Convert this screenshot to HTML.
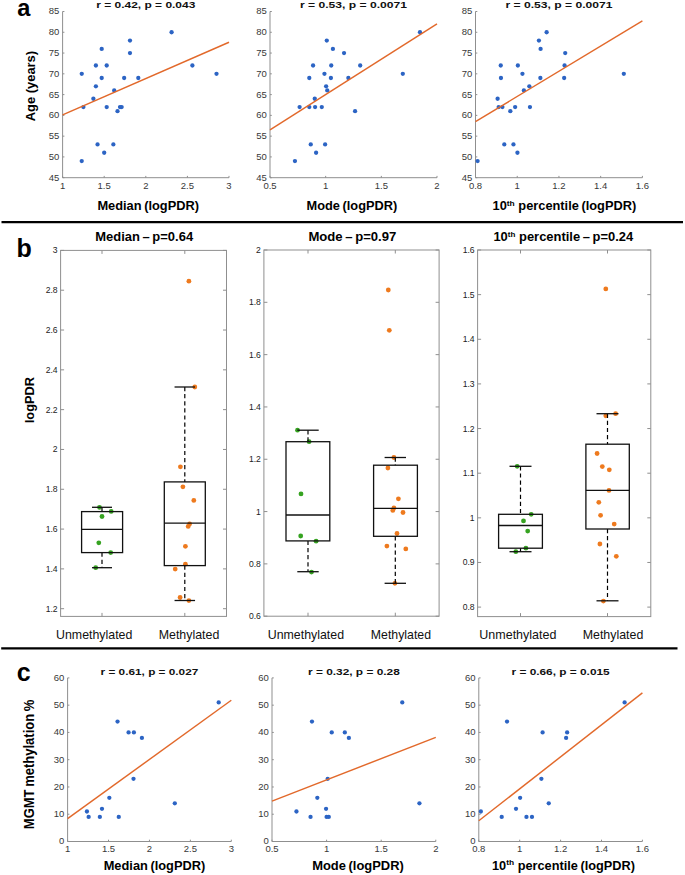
<!DOCTYPE html><html><head><meta charset="utf-8"><style>html,body{margin:0;padding:0;background:#fff;}svg{display:block;font-family:"Liberation Sans", sans-serif;}</style></head><body>
<svg width="685" height="875" viewBox="0 0 685 875">
<rect width="685" height="875" fill="#fff"/>
<line x1="1.5" y1="222.1" x2="683" y2="222.1" stroke="#000" stroke-width="2.2"/>
<line x1="1.2" y1="648.4" x2="677.5" y2="648.4" stroke="#000" stroke-width="2.2"/>
<text x="17.2" y="15.5" font-size="23.6" text-anchor="start" fill="#000" font-weight="bold">a</text>
<text x="16.6" y="257" font-size="25" text-anchor="start" fill="#000" font-weight="bold">b</text>
<text x="16.8" y="681" font-size="25" text-anchor="start" fill="#000" font-weight="bold">c</text>
<path d="M62.6 11.5 L62.6 177.7 L229 177.7" stroke="#8f8f8f" stroke-width="1" fill="none"/>
<line x1="62.6" y1="11.5" x2="64.4" y2="11.5" stroke="#8f8f8f" stroke-width="1"/>
<text x="59.4" y="14.4" font-size="9.5" text-anchor="end" fill="#383838">85</text>
<line x1="62.6" y1="32.27" x2="64.4" y2="32.27" stroke="#8f8f8f" stroke-width="1"/>
<text x="59.4" y="35.17" font-size="9.5" text-anchor="end" fill="#383838">80</text>
<line x1="62.6" y1="53.05" x2="64.4" y2="53.05" stroke="#8f8f8f" stroke-width="1"/>
<text x="59.4" y="55.95" font-size="9.5" text-anchor="end" fill="#383838">75</text>
<line x1="62.6" y1="73.82" x2="64.4" y2="73.82" stroke="#8f8f8f" stroke-width="1"/>
<text x="59.4" y="76.72" font-size="9.5" text-anchor="end" fill="#383838">70</text>
<line x1="62.6" y1="94.6" x2="64.4" y2="94.6" stroke="#8f8f8f" stroke-width="1"/>
<text x="59.4" y="97.5" font-size="9.5" text-anchor="end" fill="#383838">65</text>
<line x1="62.6" y1="115.38" x2="64.4" y2="115.38" stroke="#8f8f8f" stroke-width="1"/>
<text x="59.4" y="118.28" font-size="9.5" text-anchor="end" fill="#383838">60</text>
<line x1="62.6" y1="136.15" x2="64.4" y2="136.15" stroke="#8f8f8f" stroke-width="1"/>
<text x="59.4" y="139.05" font-size="9.5" text-anchor="end" fill="#383838">55</text>
<line x1="62.6" y1="156.92" x2="64.4" y2="156.92" stroke="#8f8f8f" stroke-width="1"/>
<text x="59.4" y="159.82" font-size="9.5" text-anchor="end" fill="#383838">50</text>
<line x1="62.6" y1="177.7" x2="64.4" y2="177.7" stroke="#8f8f8f" stroke-width="1"/>
<text x="59.4" y="180.6" font-size="9.5" text-anchor="end" fill="#383838">45</text>
<line x1="62.6" y1="177.7" x2="62.6" y2="175.9" stroke="#8f8f8f" stroke-width="1"/>
<text x="62.6" y="188.5" font-size="9.5" text-anchor="middle" fill="#383838">1</text>
<line x1="104.2" y1="177.7" x2="104.2" y2="175.9" stroke="#8f8f8f" stroke-width="1"/>
<text x="104.2" y="188.5" font-size="9.5" text-anchor="middle" fill="#383838">1.5</text>
<line x1="145.8" y1="177.7" x2="145.8" y2="175.9" stroke="#8f8f8f" stroke-width="1"/>
<text x="145.8" y="188.5" font-size="9.5" text-anchor="middle" fill="#383838">2</text>
<line x1="187.4" y1="177.7" x2="187.4" y2="175.9" stroke="#8f8f8f" stroke-width="1"/>
<text x="187.4" y="188.5" font-size="9.5" text-anchor="middle" fill="#383838">2.5</text>
<line x1="229" y1="177.7" x2="229" y2="175.9" stroke="#8f8f8f" stroke-width="1"/>
<text x="229" y="188.5" font-size="9.5" text-anchor="middle" fill="#383838">3</text>
<circle cx="81.74" cy="73.82" r="2.15" fill="#2c64c4"/>
<circle cx="101.7" cy="48.89" r="2.15" fill="#2c64c4"/>
<circle cx="95.88" cy="65.52" r="2.15" fill="#2c64c4"/>
<circle cx="106.7" cy="65.52" r="2.15" fill="#2c64c4"/>
<circle cx="101.7" cy="77.98" r="2.15" fill="#2c64c4"/>
<circle cx="95.88" cy="86.29" r="2.15" fill="#2c64c4"/>
<circle cx="93.38" cy="98.75" r="2.15" fill="#2c64c4"/>
<circle cx="83.4" cy="107.06" r="2.15" fill="#2c64c4"/>
<circle cx="106.7" cy="107.06" r="2.15" fill="#2c64c4"/>
<circle cx="114.18" cy="90.44" r="2.15" fill="#2c64c4"/>
<circle cx="117.51" cy="111.22" r="2.15" fill="#2c64c4"/>
<circle cx="120.01" cy="107.06" r="2.15" fill="#2c64c4"/>
<circle cx="121.67" cy="107.06" r="2.15" fill="#2c64c4"/>
<circle cx="124.17" cy="77.98" r="2.15" fill="#2c64c4"/>
<circle cx="129.99" cy="40.58" r="2.15" fill="#2c64c4"/>
<circle cx="129.99" cy="53.05" r="2.15" fill="#2c64c4"/>
<circle cx="138.31" cy="77.98" r="2.15" fill="#2c64c4"/>
<circle cx="171.59" cy="32.27" r="2.15" fill="#2c64c4"/>
<circle cx="192.39" cy="65.52" r="2.15" fill="#2c64c4"/>
<circle cx="216.52" cy="73.82" r="2.15" fill="#2c64c4"/>
<circle cx="97.54" cy="144.46" r="2.15" fill="#2c64c4"/>
<circle cx="104.2" cy="152.77" r="2.15" fill="#2c64c4"/>
<circle cx="113.35" cy="144.46" r="2.15" fill="#2c64c4"/>
<circle cx="81.74" cy="161.08" r="2.15" fill="#2c64c4"/>
<line x1="62.6" y1="114.96" x2="229" y2="42.25" stroke="#e2692b" stroke-width="1.45"/>
<text x="145.8" y="8.4" font-size="9.8" text-anchor="middle" fill="#111" font-weight="bold" textLength="99" lengthAdjust="spacingAndGlyphs">r = 0.42, p = 0.043</text>
<text x="148.2" y="210.1" font-size="12.2" font-weight="bold" text-anchor="middle" textLength="101.6" lengthAdjust="spacingAndGlyphs">Median (logPDR)</text>
<path d="M270 11.5 L270 177.7 L437 177.7" stroke="#8f8f8f" stroke-width="1" fill="none"/>
<line x1="270" y1="11.5" x2="271.8" y2="11.5" stroke="#8f8f8f" stroke-width="1"/>
<text x="266.8" y="14.4" font-size="9.5" text-anchor="end" fill="#383838">85</text>
<line x1="270" y1="32.27" x2="271.8" y2="32.27" stroke="#8f8f8f" stroke-width="1"/>
<text x="266.8" y="35.17" font-size="9.5" text-anchor="end" fill="#383838">80</text>
<line x1="270" y1="53.05" x2="271.8" y2="53.05" stroke="#8f8f8f" stroke-width="1"/>
<text x="266.8" y="55.95" font-size="9.5" text-anchor="end" fill="#383838">75</text>
<line x1="270" y1="73.82" x2="271.8" y2="73.82" stroke="#8f8f8f" stroke-width="1"/>
<text x="266.8" y="76.72" font-size="9.5" text-anchor="end" fill="#383838">70</text>
<line x1="270" y1="94.6" x2="271.8" y2="94.6" stroke="#8f8f8f" stroke-width="1"/>
<text x="266.8" y="97.5" font-size="9.5" text-anchor="end" fill="#383838">65</text>
<line x1="270" y1="115.38" x2="271.8" y2="115.38" stroke="#8f8f8f" stroke-width="1"/>
<text x="266.8" y="118.28" font-size="9.5" text-anchor="end" fill="#383838">60</text>
<line x1="270" y1="136.15" x2="271.8" y2="136.15" stroke="#8f8f8f" stroke-width="1"/>
<text x="266.8" y="139.05" font-size="9.5" text-anchor="end" fill="#383838">55</text>
<line x1="270" y1="156.92" x2="271.8" y2="156.92" stroke="#8f8f8f" stroke-width="1"/>
<text x="266.8" y="159.82" font-size="9.5" text-anchor="end" fill="#383838">50</text>
<line x1="270" y1="177.7" x2="271.8" y2="177.7" stroke="#8f8f8f" stroke-width="1"/>
<text x="266.8" y="180.6" font-size="9.5" text-anchor="end" fill="#383838">45</text>
<line x1="270" y1="177.7" x2="270" y2="175.9" stroke="#8f8f8f" stroke-width="1"/>
<text x="270" y="188.5" font-size="9.5" text-anchor="middle" fill="#383838">0.5</text>
<line x1="325.67" y1="177.7" x2="325.67" y2="175.9" stroke="#8f8f8f" stroke-width="1"/>
<text x="325.67" y="188.5" font-size="9.5" text-anchor="middle" fill="#383838">1</text>
<line x1="381.33" y1="177.7" x2="381.33" y2="175.9" stroke="#8f8f8f" stroke-width="1"/>
<text x="381.33" y="188.5" font-size="9.5" text-anchor="middle" fill="#383838">1.5</text>
<line x1="437" y1="177.7" x2="437" y2="175.9" stroke="#8f8f8f" stroke-width="1"/>
<text x="437" y="188.5" font-size="9.5" text-anchor="middle" fill="#383838">2</text>
<circle cx="299.61" cy="107.06" r="2.15" fill="#2c64c4"/>
<circle cx="309.3" cy="107.06" r="2.15" fill="#2c64c4"/>
<circle cx="315.09" cy="107.06" r="2.15" fill="#2c64c4"/>
<circle cx="321.77" cy="107.06" r="2.15" fill="#2c64c4"/>
<circle cx="309.3" cy="77.98" r="2.15" fill="#2c64c4"/>
<circle cx="313.09" cy="65.52" r="2.15" fill="#2c64c4"/>
<circle cx="314.76" cy="98.75" r="2.15" fill="#2c64c4"/>
<circle cx="326.78" cy="40.58" r="2.15" fill="#2c64c4"/>
<circle cx="332.9" cy="48.89" r="2.15" fill="#2c64c4"/>
<circle cx="324.44" cy="73.82" r="2.15" fill="#2c64c4"/>
<circle cx="326.11" cy="86.29" r="2.15" fill="#2c64c4"/>
<circle cx="327.23" cy="90.44" r="2.15" fill="#2c64c4"/>
<circle cx="331.23" cy="65.52" r="2.15" fill="#2c64c4"/>
<circle cx="330.9" cy="77.98" r="2.15" fill="#2c64c4"/>
<circle cx="344.04" cy="53.05" r="2.15" fill="#2c64c4"/>
<circle cx="348.38" cy="77.98" r="2.15" fill="#2c64c4"/>
<circle cx="360.18" cy="65.52" r="2.15" fill="#2c64c4"/>
<circle cx="355.06" cy="111.22" r="2.15" fill="#2c64c4"/>
<circle cx="402.82" cy="73.82" r="2.15" fill="#2c64c4"/>
<circle cx="419.97" cy="32.27" r="2.15" fill="#2c64c4"/>
<circle cx="310.75" cy="144.46" r="2.15" fill="#2c64c4"/>
<circle cx="325.11" cy="144.46" r="2.15" fill="#2c64c4"/>
<circle cx="316.09" cy="152.77" r="2.15" fill="#2c64c4"/>
<circle cx="294.94" cy="161.08" r="2.15" fill="#2c64c4"/>
<line x1="270" y1="129.92" x2="437" y2="23.96" stroke="#e2692b" stroke-width="1.45"/>
<text x="353.5" y="8.4" font-size="9.8" text-anchor="middle" fill="#111" font-weight="bold" textLength="107" lengthAdjust="spacingAndGlyphs">r = 0.53, p = 0.0071</text>
<text x="351.9" y="210.1" font-size="12.2" font-weight="bold" text-anchor="middle" textLength="90.6" lengthAdjust="spacingAndGlyphs">Mode (logPDR)</text>
<path d="M475.5 11.5 L475.5 177.7 L642.4 177.7" stroke="#8f8f8f" stroke-width="1" fill="none"/>
<line x1="475.5" y1="11.5" x2="477.3" y2="11.5" stroke="#8f8f8f" stroke-width="1"/>
<text x="472.3" y="14.4" font-size="9.5" text-anchor="end" fill="#383838">85</text>
<line x1="475.5" y1="32.27" x2="477.3" y2="32.27" stroke="#8f8f8f" stroke-width="1"/>
<text x="472.3" y="35.17" font-size="9.5" text-anchor="end" fill="#383838">80</text>
<line x1="475.5" y1="53.05" x2="477.3" y2="53.05" stroke="#8f8f8f" stroke-width="1"/>
<text x="472.3" y="55.95" font-size="9.5" text-anchor="end" fill="#383838">75</text>
<line x1="475.5" y1="73.82" x2="477.3" y2="73.82" stroke="#8f8f8f" stroke-width="1"/>
<text x="472.3" y="76.72" font-size="9.5" text-anchor="end" fill="#383838">70</text>
<line x1="475.5" y1="94.6" x2="477.3" y2="94.6" stroke="#8f8f8f" stroke-width="1"/>
<text x="472.3" y="97.5" font-size="9.5" text-anchor="end" fill="#383838">65</text>
<line x1="475.5" y1="115.38" x2="477.3" y2="115.38" stroke="#8f8f8f" stroke-width="1"/>
<text x="472.3" y="118.28" font-size="9.5" text-anchor="end" fill="#383838">60</text>
<line x1="475.5" y1="136.15" x2="477.3" y2="136.15" stroke="#8f8f8f" stroke-width="1"/>
<text x="472.3" y="139.05" font-size="9.5" text-anchor="end" fill="#383838">55</text>
<line x1="475.5" y1="156.92" x2="477.3" y2="156.92" stroke="#8f8f8f" stroke-width="1"/>
<text x="472.3" y="159.82" font-size="9.5" text-anchor="end" fill="#383838">50</text>
<line x1="475.5" y1="177.7" x2="477.3" y2="177.7" stroke="#8f8f8f" stroke-width="1"/>
<text x="472.3" y="180.6" font-size="9.5" text-anchor="end" fill="#383838">45</text>
<line x1="475.5" y1="177.7" x2="475.5" y2="175.9" stroke="#8f8f8f" stroke-width="1"/>
<text x="475.5" y="188.5" font-size="9.5" text-anchor="middle" fill="#383838">0.8</text>
<line x1="517.23" y1="177.7" x2="517.23" y2="175.9" stroke="#8f8f8f" stroke-width="1"/>
<text x="517.23" y="188.5" font-size="9.5" text-anchor="middle" fill="#383838">1</text>
<line x1="558.95" y1="177.7" x2="558.95" y2="175.9" stroke="#8f8f8f" stroke-width="1"/>
<text x="558.95" y="188.5" font-size="9.5" text-anchor="middle" fill="#383838">1.2</text>
<line x1="600.67" y1="177.7" x2="600.67" y2="175.9" stroke="#8f8f8f" stroke-width="1"/>
<text x="600.67" y="188.5" font-size="9.5" text-anchor="middle" fill="#383838">1.4</text>
<line x1="642.4" y1="177.7" x2="642.4" y2="175.9" stroke="#8f8f8f" stroke-width="1"/>
<text x="642.4" y="188.5" font-size="9.5" text-anchor="middle" fill="#383838">1.6</text>
<circle cx="477.59" cy="161.08" r="2.15" fill="#2c64c4"/>
<circle cx="497.61" cy="98.75" r="2.15" fill="#2c64c4"/>
<circle cx="498.66" cy="107.06" r="2.15" fill="#2c64c4"/>
<circle cx="502.41" cy="107.06" r="2.15" fill="#2c64c4"/>
<circle cx="500.74" cy="65.52" r="2.15" fill="#2c64c4"/>
<circle cx="500.95" cy="77.98" r="2.15" fill="#2c64c4"/>
<circle cx="504.29" cy="144.46" r="2.15" fill="#2c64c4"/>
<circle cx="510.34" cy="111.22" r="2.15" fill="#2c64c4"/>
<circle cx="513.47" cy="144.46" r="2.15" fill="#2c64c4"/>
<circle cx="515.14" cy="107.06" r="2.15" fill="#2c64c4"/>
<circle cx="517.85" cy="65.52" r="2.15" fill="#2c64c4"/>
<circle cx="517.43" cy="152.77" r="2.15" fill="#2c64c4"/>
<circle cx="522.44" cy="73.82" r="2.15" fill="#2c64c4"/>
<circle cx="523.9" cy="90.44" r="2.15" fill="#2c64c4"/>
<circle cx="529.33" cy="86.29" r="2.15" fill="#2c64c4"/>
<circle cx="529.95" cy="107.06" r="2.15" fill="#2c64c4"/>
<circle cx="538.92" cy="40.58" r="2.15" fill="#2c64c4"/>
<circle cx="540.59" cy="48.89" r="2.15" fill="#2c64c4"/>
<circle cx="546.64" cy="32.27" r="2.15" fill="#2c64c4"/>
<circle cx="540.38" cy="77.98" r="2.15" fill="#2c64c4"/>
<circle cx="565.21" cy="53.05" r="2.15" fill="#2c64c4"/>
<circle cx="564.58" cy="65.52" r="2.15" fill="#2c64c4"/>
<circle cx="564.17" cy="77.98" r="2.15" fill="#2c64c4"/>
<circle cx="623.83" cy="73.82" r="2.15" fill="#2c64c4"/>
<line x1="475.5" y1="121.61" x2="642.4" y2="20.85" stroke="#e2692b" stroke-width="1.45"/>
<text x="558.95" y="8.4" font-size="9.8" text-anchor="middle" fill="#111" font-weight="bold" textLength="107" lengthAdjust="spacingAndGlyphs">r = 0.53, p = 0.0071</text>
<text x="564.4" y="210.1" font-size="12.2" font-weight="bold" text-anchor="middle" textLength="143.7" lengthAdjust="spacingAndGlyphs">10<tspan font-size="8" dy="-4.5">th</tspan><tspan dy="4.5"> percentile (logPDR)</tspan></text>
<text x="35" y="86.1" font-size="13.2" text-anchor="middle" fill="#000" font-weight="bold" textLength="70.4" lengthAdjust="spacingAndGlyphs" transform="rotate(-90 35 86.1)">Age (years)</text>
<rect x="60.6" y="250.4" width="165.9" height="366" fill="none" stroke="#8f8f8f" stroke-width="1"/>
<line x1="60.6" y1="250.4" x2="64.1" y2="250.4" stroke="#8f8f8f" stroke-width="1"/>
<line x1="226.5" y1="250.4" x2="223" y2="250.4" stroke="#8f8f8f" stroke-width="1"/>
<text x="57.6" y="253.4" font-size="8.6" text-anchor="end" fill="#222">3</text>
<line x1="60.6" y1="290.21" x2="64.1" y2="290.21" stroke="#8f8f8f" stroke-width="1"/>
<line x1="226.5" y1="290.21" x2="223" y2="290.21" stroke="#8f8f8f" stroke-width="1"/>
<text x="57.6" y="293.21" font-size="8.6" text-anchor="end" fill="#222">2.8</text>
<line x1="60.6" y1="330.02" x2="64.1" y2="330.02" stroke="#8f8f8f" stroke-width="1"/>
<line x1="226.5" y1="330.02" x2="223" y2="330.02" stroke="#8f8f8f" stroke-width="1"/>
<text x="57.6" y="333.02" font-size="8.6" text-anchor="end" fill="#222">2.6</text>
<line x1="60.6" y1="369.83" x2="64.1" y2="369.83" stroke="#8f8f8f" stroke-width="1"/>
<line x1="226.5" y1="369.83" x2="223" y2="369.83" stroke="#8f8f8f" stroke-width="1"/>
<text x="57.6" y="372.83" font-size="8.6" text-anchor="end" fill="#222">2.4</text>
<line x1="60.6" y1="409.64" x2="64.1" y2="409.64" stroke="#8f8f8f" stroke-width="1"/>
<line x1="226.5" y1="409.64" x2="223" y2="409.64" stroke="#8f8f8f" stroke-width="1"/>
<text x="57.6" y="412.64" font-size="8.6" text-anchor="end" fill="#222">2.2</text>
<line x1="60.6" y1="449.46" x2="64.1" y2="449.46" stroke="#8f8f8f" stroke-width="1"/>
<line x1="226.5" y1="449.46" x2="223" y2="449.46" stroke="#8f8f8f" stroke-width="1"/>
<text x="57.6" y="452.46" font-size="8.6" text-anchor="end" fill="#222">2</text>
<line x1="60.6" y1="489.27" x2="64.1" y2="489.27" stroke="#8f8f8f" stroke-width="1"/>
<line x1="226.5" y1="489.27" x2="223" y2="489.27" stroke="#8f8f8f" stroke-width="1"/>
<text x="57.6" y="492.27" font-size="8.6" text-anchor="end" fill="#222">1.8</text>
<line x1="60.6" y1="529.08" x2="64.1" y2="529.08" stroke="#8f8f8f" stroke-width="1"/>
<line x1="226.5" y1="529.08" x2="223" y2="529.08" stroke="#8f8f8f" stroke-width="1"/>
<text x="57.6" y="532.08" font-size="8.6" text-anchor="end" fill="#222">1.6</text>
<line x1="60.6" y1="568.89" x2="64.1" y2="568.89" stroke="#8f8f8f" stroke-width="1"/>
<line x1="226.5" y1="568.89" x2="223" y2="568.89" stroke="#8f8f8f" stroke-width="1"/>
<text x="57.6" y="571.89" font-size="8.6" text-anchor="end" fill="#222">1.4</text>
<line x1="60.6" y1="608.7" x2="64.1" y2="608.7" stroke="#8f8f8f" stroke-width="1"/>
<line x1="226.5" y1="608.7" x2="223" y2="608.7" stroke="#8f8f8f" stroke-width="1"/>
<text x="57.6" y="611.7" font-size="8.6" text-anchor="end" fill="#222">1.2</text>
<line x1="102" y1="250.4" x2="102" y2="253.9" stroke="#8f8f8f" stroke-width="1"/>
<line x1="102" y1="616.4" x2="102" y2="612.9" stroke="#8f8f8f" stroke-width="1"/>
<line x1="184.8" y1="250.4" x2="184.8" y2="253.9" stroke="#8f8f8f" stroke-width="1"/>
<line x1="184.8" y1="616.4" x2="184.8" y2="612.9" stroke="#8f8f8f" stroke-width="1"/>
<circle cx="99.5" cy="507.3" r="2.4" fill="#36a321"/>
<circle cx="111.2" cy="511.4" r="2.4" fill="#36a321"/>
<circle cx="102" cy="516.5" r="2.4" fill="#36a321"/>
<circle cx="98.8" cy="542.8" r="2.4" fill="#36a321"/>
<circle cx="110.7" cy="552.6" r="2.4" fill="#36a321"/>
<circle cx="95.7" cy="567.7" r="2.4" fill="#36a321"/>
<line x1="102" y1="507.3" x2="102" y2="511.6" stroke="#000" stroke-width="1.2" stroke-dasharray="4.2 2.9"/>
<line x1="102" y1="552.6" x2="102" y2="567.7" stroke="#000" stroke-width="1.2" stroke-dasharray="4.2 2.9"/>
<line x1="92" y1="507.3" x2="112" y2="507.3" stroke="#111" stroke-width="1.3"/>
<line x1="92" y1="567.7" x2="112" y2="567.7" stroke="#111" stroke-width="1.3"/>
<rect x="81.6" y="511.6" width="41" height="41" fill="none" stroke="#111" stroke-width="1.3"/>
<line x1="81.6" y1="529.3" x2="122.6" y2="529.3" stroke="#111" stroke-width="1.3"/>
<circle cx="188.9" cy="281.2" r="2.4" fill="#ee7a1e"/>
<circle cx="194.8" cy="387" r="2.4" fill="#ee7a1e"/>
<circle cx="180.4" cy="466.8" r="2.4" fill="#ee7a1e"/>
<circle cx="182.9" cy="486.8" r="2.4" fill="#ee7a1e"/>
<circle cx="193.8" cy="500.4" r="2.4" fill="#ee7a1e"/>
<circle cx="189.6" cy="523.9" r="2.4" fill="#ee7a1e"/>
<circle cx="188.2" cy="526.4" r="2.4" fill="#ee7a1e"/>
<circle cx="185.4" cy="546.3" r="2.4" fill="#ee7a1e"/>
<circle cx="185.4" cy="564.2" r="2.4" fill="#ee7a1e"/>
<circle cx="175.2" cy="569.1" r="2.4" fill="#ee7a1e"/>
<circle cx="180.1" cy="597.5" r="2.4" fill="#ee7a1e"/>
<circle cx="188.9" cy="600.6" r="2.4" fill="#ee7a1e"/>
<line x1="184.8" y1="387" x2="184.8" y2="481.9" stroke="#000" stroke-width="1.2" stroke-dasharray="4.2 2.9"/>
<line x1="184.8" y1="565.6" x2="184.8" y2="600.5" stroke="#000" stroke-width="1.2" stroke-dasharray="4.2 2.9"/>
<line x1="174.55" y1="387" x2="195.05" y2="387" stroke="#111" stroke-width="1.3"/>
<line x1="174.55" y1="600.5" x2="195.05" y2="600.5" stroke="#111" stroke-width="1.3"/>
<rect x="164.3" y="481.9" width="41" height="83.7" fill="none" stroke="#111" stroke-width="1.3"/>
<line x1="164.3" y1="523.2" x2="205.3" y2="523.2" stroke="#111" stroke-width="1.3"/>
<text x="144.2" y="241.3" font-size="12.9" font-weight="bold" text-anchor="middle" textLength="97.8" lengthAdjust="spacingAndGlyphs">Median – p=0.64</text>
<text x="94.2" y="639.2" font-size="12.2" text-anchor="middle" fill="#111" textLength="76.4" lengthAdjust="spacingAndGlyphs">Unmethylated</text>
<text x="189" y="639.2" font-size="12.2" text-anchor="middle" fill="#111" textLength="60.6" lengthAdjust="spacingAndGlyphs">Methylated</text>
<rect x="263.9" y="250" width="175.2" height="366.2" fill="none" stroke="#8f8f8f" stroke-width="1"/>
<line x1="263.9" y1="250" x2="267.4" y2="250" stroke="#8f8f8f" stroke-width="1"/>
<line x1="439.1" y1="250" x2="435.6" y2="250" stroke="#8f8f8f" stroke-width="1"/>
<text x="260.9" y="253" font-size="8.6" text-anchor="end" fill="#222">2</text>
<line x1="263.9" y1="302.31" x2="267.4" y2="302.31" stroke="#8f8f8f" stroke-width="1"/>
<line x1="439.1" y1="302.31" x2="435.6" y2="302.31" stroke="#8f8f8f" stroke-width="1"/>
<text x="260.9" y="305.31" font-size="8.6" text-anchor="end" fill="#222">1.8</text>
<line x1="263.9" y1="354.63" x2="267.4" y2="354.63" stroke="#8f8f8f" stroke-width="1"/>
<line x1="439.1" y1="354.63" x2="435.6" y2="354.63" stroke="#8f8f8f" stroke-width="1"/>
<text x="260.9" y="357.63" font-size="8.6" text-anchor="end" fill="#222">1.6</text>
<line x1="263.9" y1="406.94" x2="267.4" y2="406.94" stroke="#8f8f8f" stroke-width="1"/>
<line x1="439.1" y1="406.94" x2="435.6" y2="406.94" stroke="#8f8f8f" stroke-width="1"/>
<text x="260.9" y="409.94" font-size="8.6" text-anchor="end" fill="#222">1.4</text>
<line x1="263.9" y1="459.26" x2="267.4" y2="459.26" stroke="#8f8f8f" stroke-width="1"/>
<line x1="439.1" y1="459.26" x2="435.6" y2="459.26" stroke="#8f8f8f" stroke-width="1"/>
<text x="260.9" y="462.26" font-size="8.6" text-anchor="end" fill="#222">1.2</text>
<line x1="263.9" y1="511.57" x2="267.4" y2="511.57" stroke="#8f8f8f" stroke-width="1"/>
<line x1="439.1" y1="511.57" x2="435.6" y2="511.57" stroke="#8f8f8f" stroke-width="1"/>
<text x="260.9" y="514.57" font-size="8.6" text-anchor="end" fill="#222">1</text>
<line x1="263.9" y1="563.89" x2="267.4" y2="563.89" stroke="#8f8f8f" stroke-width="1"/>
<line x1="439.1" y1="563.89" x2="435.6" y2="563.89" stroke="#8f8f8f" stroke-width="1"/>
<text x="260.9" y="566.89" font-size="8.6" text-anchor="end" fill="#222">0.8</text>
<line x1="263.9" y1="616.2" x2="267.4" y2="616.2" stroke="#8f8f8f" stroke-width="1"/>
<line x1="439.1" y1="616.2" x2="435.6" y2="616.2" stroke="#8f8f8f" stroke-width="1"/>
<text x="260.9" y="619.2" font-size="8.6" text-anchor="end" fill="#222">0.6</text>
<line x1="308" y1="250" x2="308" y2="253.5" stroke="#8f8f8f" stroke-width="1"/>
<line x1="308" y1="616.2" x2="308" y2="612.7" stroke="#8f8f8f" stroke-width="1"/>
<line x1="395.3" y1="250" x2="395.3" y2="253.5" stroke="#8f8f8f" stroke-width="1"/>
<line x1="395.3" y1="616.2" x2="395.3" y2="612.7" stroke="#8f8f8f" stroke-width="1"/>
<circle cx="297.5" cy="430.2" r="2.4" fill="#36a321"/>
<circle cx="309.1" cy="441.7" r="2.4" fill="#36a321"/>
<circle cx="301" cy="493.9" r="2.4" fill="#36a321"/>
<circle cx="300.7" cy="536" r="2.4" fill="#36a321"/>
<circle cx="316.1" cy="541.2" r="2.4" fill="#36a321"/>
<circle cx="311.5" cy="572.1" r="2.4" fill="#36a321"/>
<line x1="308" y1="430.2" x2="308" y2="441.7" stroke="#000" stroke-width="1.2" stroke-dasharray="4.2 2.9"/>
<line x1="308" y1="540.9" x2="308" y2="571.7" stroke="#000" stroke-width="1.2" stroke-dasharray="4.2 2.9"/>
<line x1="297.3" y1="430.2" x2="318.7" y2="430.2" stroke="#111" stroke-width="1.3"/>
<line x1="297.3" y1="571.7" x2="318.7" y2="571.7" stroke="#111" stroke-width="1.3"/>
<rect x="286" y="441.7" width="43.8" height="99.2" fill="none" stroke="#111" stroke-width="1.3"/>
<line x1="286" y1="515" x2="329.8" y2="515" stroke="#111" stroke-width="1.3"/>
<circle cx="388.3" cy="290" r="2.4" fill="#ee7a1e"/>
<circle cx="389.3" cy="330.3" r="2.4" fill="#ee7a1e"/>
<circle cx="393.9" cy="457.5" r="2.4" fill="#ee7a1e"/>
<circle cx="387.9" cy="468" r="2.4" fill="#ee7a1e"/>
<circle cx="398.4" cy="498.8" r="2.4" fill="#ee7a1e"/>
<circle cx="393.9" cy="508" r="2.4" fill="#ee7a1e"/>
<circle cx="392.8" cy="510.4" r="2.4" fill="#ee7a1e"/>
<circle cx="403" cy="512.5" r="2.4" fill="#ee7a1e"/>
<circle cx="397" cy="533.5" r="2.4" fill="#ee7a1e"/>
<circle cx="386.9" cy="546.1" r="2.4" fill="#ee7a1e"/>
<circle cx="405.8" cy="548.9" r="2.4" fill="#ee7a1e"/>
<circle cx="394.9" cy="583.3" r="2.4" fill="#ee7a1e"/>
<line x1="395.3" y1="457.5" x2="395.3" y2="465.2" stroke="#000" stroke-width="1.2" stroke-dasharray="4.2 2.9"/>
<line x1="395.3" y1="536.3" x2="395.3" y2="583.3" stroke="#000" stroke-width="1.2" stroke-dasharray="4.2 2.9"/>
<line x1="384.6" y1="457.5" x2="406" y2="457.5" stroke="#111" stroke-width="1.3"/>
<line x1="384.6" y1="583.3" x2="406" y2="583.3" stroke="#111" stroke-width="1.3"/>
<rect x="373.6" y="465.2" width="43.8" height="71.1" fill="none" stroke="#111" stroke-width="1.3"/>
<line x1="373.6" y1="508.3" x2="417.4" y2="508.3" stroke="#111" stroke-width="1.3"/>
<text x="352.4" y="241.3" font-size="12.9" font-weight="bold" text-anchor="middle" textLength="87.9" lengthAdjust="spacingAndGlyphs">Mode – p=0.97</text>
<text x="305.9" y="639.2" font-size="12.2" text-anchor="middle" fill="#111" textLength="76.4" lengthAdjust="spacingAndGlyphs">Unmethylated</text>
<text x="400.9" y="639.2" font-size="12.2" text-anchor="middle" fill="#111" textLength="60.2" lengthAdjust="spacingAndGlyphs">Methylated</text>
<rect x="477.6" y="250" width="173.2" height="366.6" fill="none" stroke="#8f8f8f" stroke-width="1"/>
<line x1="477.6" y1="250" x2="481.1" y2="250" stroke="#8f8f8f" stroke-width="1"/>
<line x1="650.8" y1="250" x2="647.3" y2="250" stroke="#8f8f8f" stroke-width="1"/>
<text x="474.6" y="253" font-size="8.6" text-anchor="end" fill="#222">1.6</text>
<line x1="477.6" y1="294.64" x2="481.1" y2="294.64" stroke="#8f8f8f" stroke-width="1"/>
<line x1="650.8" y1="294.64" x2="647.3" y2="294.64" stroke="#8f8f8f" stroke-width="1"/>
<text x="474.6" y="297.64" font-size="8.6" text-anchor="end" fill="#222">1.5</text>
<line x1="477.6" y1="339.28" x2="481.1" y2="339.28" stroke="#8f8f8f" stroke-width="1"/>
<line x1="650.8" y1="339.28" x2="647.3" y2="339.28" stroke="#8f8f8f" stroke-width="1"/>
<text x="474.6" y="342.28" font-size="8.6" text-anchor="end" fill="#222">1.4</text>
<line x1="477.6" y1="383.91" x2="481.1" y2="383.91" stroke="#8f8f8f" stroke-width="1"/>
<line x1="650.8" y1="383.91" x2="647.3" y2="383.91" stroke="#8f8f8f" stroke-width="1"/>
<text x="474.6" y="386.91" font-size="8.6" text-anchor="end" fill="#222">1.3</text>
<line x1="477.6" y1="428.55" x2="481.1" y2="428.55" stroke="#8f8f8f" stroke-width="1"/>
<line x1="650.8" y1="428.55" x2="647.3" y2="428.55" stroke="#8f8f8f" stroke-width="1"/>
<text x="474.6" y="431.55" font-size="8.6" text-anchor="end" fill="#222">1.2</text>
<line x1="477.6" y1="473.19" x2="481.1" y2="473.19" stroke="#8f8f8f" stroke-width="1"/>
<line x1="650.8" y1="473.19" x2="647.3" y2="473.19" stroke="#8f8f8f" stroke-width="1"/>
<text x="474.6" y="476.19" font-size="8.6" text-anchor="end" fill="#222">1.1</text>
<line x1="477.6" y1="517.83" x2="481.1" y2="517.83" stroke="#8f8f8f" stroke-width="1"/>
<line x1="650.8" y1="517.83" x2="647.3" y2="517.83" stroke="#8f8f8f" stroke-width="1"/>
<text x="474.6" y="520.83" font-size="8.6" text-anchor="end" fill="#222">1</text>
<line x1="477.6" y1="562.46" x2="481.1" y2="562.46" stroke="#8f8f8f" stroke-width="1"/>
<line x1="650.8" y1="562.46" x2="647.3" y2="562.46" stroke="#8f8f8f" stroke-width="1"/>
<text x="474.6" y="565.46" font-size="8.6" text-anchor="end" fill="#222">0.9</text>
<line x1="477.6" y1="607.1" x2="481.1" y2="607.1" stroke="#8f8f8f" stroke-width="1"/>
<line x1="650.8" y1="607.1" x2="647.3" y2="607.1" stroke="#8f8f8f" stroke-width="1"/>
<text x="474.6" y="610.1" font-size="8.6" text-anchor="end" fill="#222">0.8</text>
<line x1="520.5" y1="250" x2="520.5" y2="253.5" stroke="#8f8f8f" stroke-width="1"/>
<line x1="520.5" y1="616.6" x2="520.5" y2="613.1" stroke="#8f8f8f" stroke-width="1"/>
<line x1="607.5" y1="250" x2="607.5" y2="253.5" stroke="#8f8f8f" stroke-width="1"/>
<line x1="607.5" y1="616.6" x2="607.5" y2="613.1" stroke="#8f8f8f" stroke-width="1"/>
<circle cx="517.2" cy="466.3" r="2.4" fill="#36a321"/>
<circle cx="531.2" cy="514.3" r="2.4" fill="#36a321"/>
<circle cx="523.5" cy="520.9" r="2.4" fill="#36a321"/>
<circle cx="527.7" cy="531.1" r="2.4" fill="#36a321"/>
<circle cx="525.9" cy="548.2" r="2.4" fill="#36a321"/>
<circle cx="515.8" cy="551.7" r="2.4" fill="#36a321"/>
<line x1="520.5" y1="466.3" x2="520.5" y2="514.3" stroke="#000" stroke-width="1.2" stroke-dasharray="4.2 2.9"/>
<line x1="520.5" y1="548.2" x2="520.5" y2="551.7" stroke="#000" stroke-width="1.2" stroke-dasharray="4.2 2.9"/>
<line x1="509.5" y1="466.3" x2="531.5" y2="466.3" stroke="#111" stroke-width="1.3"/>
<line x1="509.5" y1="551.7" x2="531.5" y2="551.7" stroke="#111" stroke-width="1.3"/>
<rect x="498.6" y="514.3" width="43.8" height="33.9" fill="none" stroke="#111" stroke-width="1.3"/>
<line x1="498.6" y1="525.5" x2="542.4" y2="525.5" stroke="#111" stroke-width="1.3"/>
<circle cx="605.8" cy="288.9" r="2.4" fill="#ee7a1e"/>
<circle cx="615.6" cy="413.7" r="2.4" fill="#ee7a1e"/>
<circle cx="605.8" cy="415.8" r="2.4" fill="#ee7a1e"/>
<circle cx="597.1" cy="453.5" r="2.4" fill="#ee7a1e"/>
<circle cx="602.3" cy="466.6" r="2.4" fill="#ee7a1e"/>
<circle cx="609.3" cy="469.8" r="2.4" fill="#ee7a1e"/>
<circle cx="609" cy="490.4" r="2.4" fill="#ee7a1e"/>
<circle cx="598.8" cy="502.3" r="2.4" fill="#ee7a1e"/>
<circle cx="600.6" cy="515.3" r="2.4" fill="#ee7a1e"/>
<circle cx="614.2" cy="524.1" r="2.4" fill="#ee7a1e"/>
<circle cx="599.9" cy="544" r="2.4" fill="#ee7a1e"/>
<circle cx="616.3" cy="556.3" r="2.4" fill="#ee7a1e"/>
<circle cx="603.4" cy="601.1" r="2.4" fill="#ee7a1e"/>
<line x1="607.5" y1="413.7" x2="607.5" y2="444.2" stroke="#000" stroke-width="1.2" stroke-dasharray="4.2 2.9"/>
<line x1="607.5" y1="529" x2="607.5" y2="600.8" stroke="#000" stroke-width="1.2" stroke-dasharray="4.2 2.9"/>
<line x1="596.5" y1="413.7" x2="618.5" y2="413.7" stroke="#111" stroke-width="1.3"/>
<line x1="596.5" y1="600.8" x2="618.5" y2="600.8" stroke="#111" stroke-width="1.3"/>
<rect x="585.9" y="444.2" width="43.4" height="84.8" fill="none" stroke="#111" stroke-width="1.3"/>
<line x1="585.9" y1="490.4" x2="629.3" y2="490.4" stroke="#111" stroke-width="1.3"/>
<text x="563.3" y="241.3" font-size="12.9" font-weight="bold" text-anchor="middle" textLength="139.8" lengthAdjust="spacingAndGlyphs">10<tspan font-size="8" dy="-4.5">th</tspan><tspan dy="4.5"> percentile – p=0.24</tspan></text>
<text x="517.85" y="639.2" font-size="12.2" text-anchor="middle" fill="#111" textLength="77.1" lengthAdjust="spacingAndGlyphs">Unmethylated</text>
<text x="613" y="639.2" font-size="12.2" text-anchor="middle" fill="#111" textLength="60.6" lengthAdjust="spacingAndGlyphs">Methylated</text>
<text x="33.6" y="400.1" font-size="12.6" text-anchor="middle" fill="#000" font-weight="bold" textLength="46.3" lengthAdjust="spacingAndGlyphs" transform="rotate(-90 33.6 400.1)">logPDR</text>
<path d="M67.6 677.9 L67.6 841.5 L231.3 841.5" stroke="#8f8f8f" stroke-width="1" fill="none"/>
<line x1="67.6" y1="677.9" x2="69.4" y2="677.9" stroke="#8f8f8f" stroke-width="1"/>
<text x="64.4" y="680.8" font-size="9.5" text-anchor="end" fill="#383838">60</text>
<line x1="67.6" y1="705.17" x2="69.4" y2="705.17" stroke="#8f8f8f" stroke-width="1"/>
<text x="64.4" y="708.07" font-size="9.5" text-anchor="end" fill="#383838">50</text>
<line x1="67.6" y1="732.43" x2="69.4" y2="732.43" stroke="#8f8f8f" stroke-width="1"/>
<text x="64.4" y="735.33" font-size="9.5" text-anchor="end" fill="#383838">40</text>
<line x1="67.6" y1="759.7" x2="69.4" y2="759.7" stroke="#8f8f8f" stroke-width="1"/>
<text x="64.4" y="762.6" font-size="9.5" text-anchor="end" fill="#383838">30</text>
<line x1="67.6" y1="786.97" x2="69.4" y2="786.97" stroke="#8f8f8f" stroke-width="1"/>
<text x="64.4" y="789.87" font-size="9.5" text-anchor="end" fill="#383838">20</text>
<line x1="67.6" y1="814.23" x2="69.4" y2="814.23" stroke="#8f8f8f" stroke-width="1"/>
<text x="64.4" y="817.13" font-size="9.5" text-anchor="end" fill="#383838">10</text>
<line x1="67.6" y1="841.5" x2="69.4" y2="841.5" stroke="#8f8f8f" stroke-width="1"/>
<text x="64.4" y="844.4" font-size="9.5" text-anchor="end" fill="#383838">0</text>
<line x1="67.6" y1="841.5" x2="67.6" y2="839.7" stroke="#8f8f8f" stroke-width="1"/>
<text x="67.6" y="852.3" font-size="9.5" text-anchor="middle" fill="#383838">1</text>
<line x1="108.53" y1="841.5" x2="108.53" y2="839.7" stroke="#8f8f8f" stroke-width="1"/>
<text x="108.53" y="852.3" font-size="9.5" text-anchor="middle" fill="#383838">1.5</text>
<line x1="149.45" y1="841.5" x2="149.45" y2="839.7" stroke="#8f8f8f" stroke-width="1"/>
<text x="149.45" y="852.3" font-size="9.5" text-anchor="middle" fill="#383838">2</text>
<line x1="190.38" y1="841.5" x2="190.38" y2="839.7" stroke="#8f8f8f" stroke-width="1"/>
<text x="190.38" y="852.3" font-size="9.5" text-anchor="middle" fill="#383838">2.5</text>
<line x1="231.3" y1="841.5" x2="231.3" y2="839.7" stroke="#8f8f8f" stroke-width="1"/>
<text x="231.3" y="852.3" font-size="9.5" text-anchor="middle" fill="#383838">3</text>
<circle cx="218.7" cy="702.44" r="2.15" fill="#2c64c4"/>
<circle cx="117.53" cy="721.53" r="2.15" fill="#2c64c4"/>
<circle cx="128.58" cy="732.43" r="2.15" fill="#2c64c4"/>
<circle cx="133.9" cy="732.43" r="2.15" fill="#2c64c4"/>
<circle cx="141.92" cy="737.89" r="2.15" fill="#2c64c4"/>
<circle cx="133.49" cy="778.79" r="2.15" fill="#2c64c4"/>
<circle cx="109.34" cy="797.87" r="2.15" fill="#2c64c4"/>
<circle cx="174.82" cy="803.33" r="2.15" fill="#2c64c4"/>
<circle cx="101.98" cy="808.78" r="2.15" fill="#2c64c4"/>
<circle cx="86.92" cy="811.51" r="2.15" fill="#2c64c4"/>
<circle cx="88.64" cy="816.96" r="2.15" fill="#2c64c4"/>
<circle cx="99.85" cy="816.96" r="2.15" fill="#2c64c4"/>
<circle cx="118.76" cy="816.96" r="2.15" fill="#2c64c4"/>
<line x1="67.6" y1="818.6" x2="231.3" y2="700.26" stroke="#e2692b" stroke-width="1.45"/>
<text x="149.45" y="675.3" font-size="9.8" text-anchor="middle" fill="#111" font-weight="bold" textLength="97.7" lengthAdjust="spacingAndGlyphs">r = 0.61, p = 0.027</text>
<text x="154.5" y="869.5" font-size="12.2" font-weight="bold" text-anchor="middle" textLength="101.6" lengthAdjust="spacingAndGlyphs">Median (logPDR)</text>
<path d="M272 677.9 L272 841.5 L435.8 841.5" stroke="#8f8f8f" stroke-width="1" fill="none"/>
<line x1="272" y1="677.9" x2="273.8" y2="677.9" stroke="#8f8f8f" stroke-width="1"/>
<text x="268.8" y="680.8" font-size="9.5" text-anchor="end" fill="#383838">60</text>
<line x1="272" y1="705.17" x2="273.8" y2="705.17" stroke="#8f8f8f" stroke-width="1"/>
<text x="268.8" y="708.07" font-size="9.5" text-anchor="end" fill="#383838">50</text>
<line x1="272" y1="732.43" x2="273.8" y2="732.43" stroke="#8f8f8f" stroke-width="1"/>
<text x="268.8" y="735.33" font-size="9.5" text-anchor="end" fill="#383838">40</text>
<line x1="272" y1="759.7" x2="273.8" y2="759.7" stroke="#8f8f8f" stroke-width="1"/>
<text x="268.8" y="762.6" font-size="9.5" text-anchor="end" fill="#383838">30</text>
<line x1="272" y1="786.97" x2="273.8" y2="786.97" stroke="#8f8f8f" stroke-width="1"/>
<text x="268.8" y="789.87" font-size="9.5" text-anchor="end" fill="#383838">20</text>
<line x1="272" y1="814.23" x2="273.8" y2="814.23" stroke="#8f8f8f" stroke-width="1"/>
<text x="268.8" y="817.13" font-size="9.5" text-anchor="end" fill="#383838">10</text>
<line x1="272" y1="841.5" x2="273.8" y2="841.5" stroke="#8f8f8f" stroke-width="1"/>
<text x="268.8" y="844.4" font-size="9.5" text-anchor="end" fill="#383838">0</text>
<line x1="272" y1="841.5" x2="272" y2="839.7" stroke="#8f8f8f" stroke-width="1"/>
<text x="272" y="852.3" font-size="9.5" text-anchor="middle" fill="#383838">0.5</text>
<line x1="326.6" y1="841.5" x2="326.6" y2="839.7" stroke="#8f8f8f" stroke-width="1"/>
<text x="326.6" y="852.3" font-size="9.5" text-anchor="middle" fill="#383838">1</text>
<line x1="381.2" y1="841.5" x2="381.2" y2="839.7" stroke="#8f8f8f" stroke-width="1"/>
<text x="381.2" y="852.3" font-size="9.5" text-anchor="middle" fill="#383838">1.5</text>
<line x1="435.8" y1="841.5" x2="435.8" y2="839.7" stroke="#8f8f8f" stroke-width="1"/>
<text x="435.8" y="852.3" font-size="9.5" text-anchor="middle" fill="#383838">2</text>
<circle cx="402.28" cy="702.44" r="2.15" fill="#2c64c4"/>
<circle cx="311.97" cy="721.53" r="2.15" fill="#2c64c4"/>
<circle cx="331.73" cy="732.43" r="2.15" fill="#2c64c4"/>
<circle cx="344.84" cy="732.43" r="2.15" fill="#2c64c4"/>
<circle cx="348.88" cy="737.89" r="2.15" fill="#2c64c4"/>
<circle cx="327.69" cy="778.79" r="2.15" fill="#2c64c4"/>
<circle cx="317.32" cy="797.87" r="2.15" fill="#2c64c4"/>
<circle cx="326.05" cy="808.78" r="2.15" fill="#2c64c4"/>
<circle cx="296.46" cy="811.51" r="2.15" fill="#2c64c4"/>
<circle cx="310.55" cy="816.96" r="2.15" fill="#2c64c4"/>
<circle cx="326.6" cy="816.96" r="2.15" fill="#2c64c4"/>
<circle cx="328.78" cy="816.96" r="2.15" fill="#2c64c4"/>
<circle cx="419.42" cy="803.33" r="2.15" fill="#2c64c4"/>
<line x1="272" y1="801.15" x2="435.8" y2="737.34" stroke="#e2692b" stroke-width="1.45"/>
<text x="353.9" y="675.3" font-size="9.8" text-anchor="middle" fill="#111" font-weight="bold" textLength="91.7" lengthAdjust="spacingAndGlyphs">r = 0.32, p = 0.28</text>
<text x="358" y="869.5" font-size="12.2" font-weight="bold" text-anchor="middle" textLength="91.7" lengthAdjust="spacingAndGlyphs">Mode (logPDR)</text>
<path d="M478.8 677.9 L478.8 841.5 L642.4 841.5" stroke="#8f8f8f" stroke-width="1" fill="none"/>
<line x1="478.8" y1="677.9" x2="480.6" y2="677.9" stroke="#8f8f8f" stroke-width="1"/>
<text x="475.6" y="680.8" font-size="9.5" text-anchor="end" fill="#383838">60</text>
<line x1="478.8" y1="705.17" x2="480.6" y2="705.17" stroke="#8f8f8f" stroke-width="1"/>
<text x="475.6" y="708.07" font-size="9.5" text-anchor="end" fill="#383838">50</text>
<line x1="478.8" y1="732.43" x2="480.6" y2="732.43" stroke="#8f8f8f" stroke-width="1"/>
<text x="475.6" y="735.33" font-size="9.5" text-anchor="end" fill="#383838">40</text>
<line x1="478.8" y1="759.7" x2="480.6" y2="759.7" stroke="#8f8f8f" stroke-width="1"/>
<text x="475.6" y="762.6" font-size="9.5" text-anchor="end" fill="#383838">30</text>
<line x1="478.8" y1="786.97" x2="480.6" y2="786.97" stroke="#8f8f8f" stroke-width="1"/>
<text x="475.6" y="789.87" font-size="9.5" text-anchor="end" fill="#383838">20</text>
<line x1="478.8" y1="814.23" x2="480.6" y2="814.23" stroke="#8f8f8f" stroke-width="1"/>
<text x="475.6" y="817.13" font-size="9.5" text-anchor="end" fill="#383838">10</text>
<line x1="478.8" y1="841.5" x2="480.6" y2="841.5" stroke="#8f8f8f" stroke-width="1"/>
<text x="475.6" y="844.4" font-size="9.5" text-anchor="end" fill="#383838">0</text>
<line x1="478.8" y1="841.5" x2="478.8" y2="839.7" stroke="#8f8f8f" stroke-width="1"/>
<text x="478.8" y="852.3" font-size="9.5" text-anchor="middle" fill="#383838">0.8</text>
<line x1="519.7" y1="841.5" x2="519.7" y2="839.7" stroke="#8f8f8f" stroke-width="1"/>
<text x="519.7" y="852.3" font-size="9.5" text-anchor="middle" fill="#383838">1</text>
<line x1="560.6" y1="841.5" x2="560.6" y2="839.7" stroke="#8f8f8f" stroke-width="1"/>
<text x="560.6" y="852.3" font-size="9.5" text-anchor="middle" fill="#383838">1.2</text>
<line x1="601.5" y1="841.5" x2="601.5" y2="839.7" stroke="#8f8f8f" stroke-width="1"/>
<text x="601.5" y="852.3" font-size="9.5" text-anchor="middle" fill="#383838">1.4</text>
<line x1="642.4" y1="841.5" x2="642.4" y2="839.7" stroke="#8f8f8f" stroke-width="1"/>
<text x="642.4" y="852.3" font-size="9.5" text-anchor="middle" fill="#383838">1.6</text>
<circle cx="624.61" cy="702.44" r="2.15" fill="#2c64c4"/>
<circle cx="507.02" cy="721.53" r="2.15" fill="#2c64c4"/>
<circle cx="542.6" cy="732.43" r="2.15" fill="#2c64c4"/>
<circle cx="567.14" cy="732.43" r="2.15" fill="#2c64c4"/>
<circle cx="566.12" cy="737.89" r="2.15" fill="#2c64c4"/>
<circle cx="541.38" cy="778.79" r="2.15" fill="#2c64c4"/>
<circle cx="520.11" cy="797.87" r="2.15" fill="#2c64c4"/>
<circle cx="548.74" cy="803.33" r="2.15" fill="#2c64c4"/>
<circle cx="516.02" cy="808.78" r="2.15" fill="#2c64c4"/>
<circle cx="480.85" cy="811.51" r="2.15" fill="#2c64c4"/>
<circle cx="501.7" cy="816.96" r="2.15" fill="#2c64c4"/>
<circle cx="526.45" cy="816.96" r="2.15" fill="#2c64c4"/>
<circle cx="531.97" cy="816.96" r="2.15" fill="#2c64c4"/>
<line x1="478.8" y1="820.78" x2="642.4" y2="692.9" stroke="#e2692b" stroke-width="1.45"/>
<text x="560.6" y="675.3" font-size="9.8" text-anchor="middle" fill="#111" font-weight="bold" textLength="98.1" lengthAdjust="spacingAndGlyphs">r = 0.66, p = 0.015</text>
<text x="563.5" y="869.5" font-size="12.2" font-weight="bold" text-anchor="middle" textLength="143" lengthAdjust="spacingAndGlyphs">10<tspan font-size="8" dy="-4.5">th</tspan><tspan dy="4.5"> percentile (logPDR)</tspan></text>
<text x="33.8" y="764.4" font-size="14.4" text-anchor="middle" fill="#000" font-weight="bold" textLength="129.6" lengthAdjust="spacingAndGlyphs" transform="rotate(-90 33.8 764.4)">MGMT methylation %</text>
</svg></body></html>
